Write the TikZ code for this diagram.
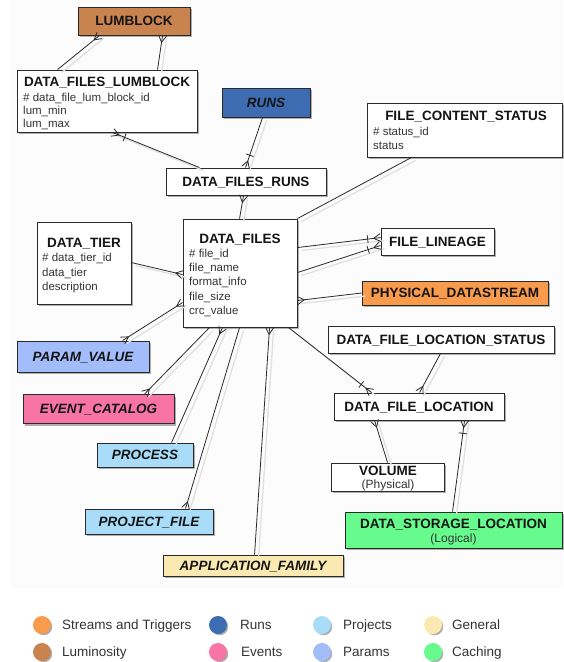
\documentclass[tikz,border=0pt]{standalone}
\usepackage{fontspec}
\setmainfont{Liberation Sans}
\usetikzlibrary{shadows,decorations.markings,calc}

\definecolor{lumc}{HTML}{C8834F}
\definecolor{runc}{HTML}{3E6CB3}
\definecolor{strc}{HTML}{F99B4C}
\definecolor{parc}{HTML}{A3BCFA}
\definecolor{evc}{HTML}{F874A5}
\definecolor{prjc}{HTML}{A8DCF8}
\definecolor{genc}{HTML}{FAEAB2}
\definecolor{cachc}{HTML}{66FB8C}
\definecolor{edge}{HTML}{2A2A2A}
\definecolor{ink}{HTML}{141414}
\definecolor{attr}{HTML}{333333}

\tikzset{
  ent/.style={draw=edge, line width=0.9pt, fill=white, rectangle, inner sep=0pt,
    drop shadow={shadow xshift=2pt, shadow yshift=-2pt, opacity=0.3, fill=black}},
  title/.style={text=ink, text depth=0pt, font=\fontsize{13.5}{15}\selectfont\bfseries},
  ititle/.style={text=ink, text depth=0pt, font=\fontsize{13.5}{15}\selectfont\bfseries\itshape},
  btext/.style={inner sep=0pt, anchor=base, text=ink, font=\fontsize{13.5}{15}\selectfont\bfseries},
  % multi-line attribute lists: anchored at the baseline of their last line
  attrs/.style={inner sep=0pt, anchor=base west, align=left, text=attr},
  sub/.style={inner sep=0pt, anchor=base, text=attr, font=\fontsize{12}{14}\selectfont},
  link/.style={draw=edge, line width=0.8pt,
    preaction={draw=black!12, line width=1.3pt, transform canvas={shift={(4pt,-3pt)}}}},
  crowend/.style={postaction={decorate, decoration={markings,
    mark=at position 1 with {\draw[edge, line width=0.8pt] (-7pt,0pt) -- (0pt,4pt) (-7pt,0pt) -- (0pt,-4pt);}}}},
  crowstart/.style={postaction={decorate, decoration={markings,
    mark=at position 0 with {\draw[edge, line width=0.8pt] (7pt,0pt) -- (0pt,4pt) (7pt,0pt) -- (0pt,-4pt);}}}},
  barend/.style={postaction={decorate, decoration={markings,
    mark=at position 1 with {\draw[edge, line width=0.8pt] (-13pt,-4pt) -- (-13pt,4pt);}}}},
  dot/.style={circle, minimum size=18pt, inner sep=0pt,
    circular drop shadow={shadow xshift=1.5pt, shadow yshift=-1.5pt, shadow scale=1, opacity=0.35, fill=black}},
  legtext/.style={inner sep=0pt, anchor=base west, text=attr, font=\fontsize{13.5}{15}\selectfont},
}

\begin{document}
\begin{tikzpicture}[x=1pt, y=-1pt]
\useasboundingbox (0,0) rectangle (563,662);
\fill[black!1.2] (10,0) rectangle (563,588);

% ---- entities ----
\node[ent, fill=lumc, minimum width=112, minimum height=28, title] (lum) at (134,21) {LUMBLOCK};
\node[ent, minimum width=180, minimum height=62] (dflum) at (107,101) {};
\node[btext] (dflum-t) at (107,86.8) {DATA\_FILES\_LUMBLOCK};
\node[attrs, font=\fontsize{11.5}{13}\selectfont] (dflum-a) at (23,127) {\# data\_file\_lum\_block\_id\\lum\_min\\lum\_max};

\node[ent, fill=runc, minimum width=88, minimum height=29, ititle] (runs) at (266,102.5) {RUNS};

\node[ent, minimum width=195, minimum height=54] (fcs) at (464.5,130) {};
\node[btext] (fcs-t) at (466,120.8) {FILE\_CONTENT\_STATUS};
\node[attrs, font=\fontsize{11.5}{14}\selectfont] (fcs-a) at (373,149) {\# status\_id\\status};

\node[ent, minimum width=160, minimum height=27, title] (dfruns) at (246,181.5) {DATA\_FILES\_RUNS};

\node[ent, minimum width=114, minimum height=108] (df) at (240,273) {};
\node[btext] (df-t) at (240,243.8) {DATA\_FILES};
\node[attrs, font=\fontsize{11.5}{14.2}\selectfont] (df-a) at (189,314.3) {\# file\_id\\file\_name\\format\_info\\file\_size\\crc\_value};

\node[ent, minimum width=94, minimum height=82] (dtier) at (84,263) {};
\node[btext] (dtier-t) at (84,247.8) {DATA\_TIER};
\node[attrs, font=\fontsize{11.5}{14.5}\selectfont] (dtier-a) at (42,290.5) {\# data\_tier\_id\\data\_tier\\description};

\node[ent, minimum width=113, minimum height=27, title] (flin) at (437.5,241.5) {FILE\_LINEAGE};
\node[ent, fill=strc, minimum width=186, minimum height=24, title] (phys) at (455,293) {PHYSICAL\_DATASTREAM};
\node[ent, fill=parc, minimum width=132, minimum height=31, ititle] (param) at (83,356.5) {PARAM\_VALUE};
\node[ent, minimum width=226, minimum height=27, title] (dfls) at (441,339.5) {DATA\_FILE\_LOCATION\_STATUS};
\node[ent, fill=evc, minimum width=151, minimum height=29, ititle] (event) at (98.5,409) {EVENT\_CATALOG};
\node[ent, minimum width=170, minimum height=27, title] (dfloc) at (419,406.5) {DATA\_FILE\_LOCATION};
\node[ent, fill=prjc, minimum width=96, minimum height=24, ititle] (process) at (145,455) {PROCESS};

\node[ent, minimum width=113, minimum height=28] (volume) at (387.5,477) {};
\node[btext] (volume-t) at (388,475.5) {VOLUME};
\node[sub] (volume-s) at (388,488.3) {(Physical)};

\node[ent, fill=prjc, minimum width=128, minimum height=25, ititle] (proj) at (149,521.5) {PROJECT\_FILE};

\node[ent, fill=cachc, minimum width=217, minimum height=36] (dsl) at (453.5,530) {};
\node[btext] (dsl-t) at (453.5,528.8) {DATA\_STORAGE\_LOCATION};
\node[sub] (dsl-s) at (453.5,542.3) {(Logical)};

\node[ent, fill=genc, minimum width=180, minimum height=21, ititle] (app) at (253,565.5) {APPLICATION\_FAMILY};

% ---- relationships ----
\draw[link, crowend] ($(dflum.north west)+(41,0)$) -- ($(lum.south west)+(22,0)$);
\draw[link, crowend] ($(dflum.north west)+(141,0)$) -- ($(lum.south west)+(85,0)$);
\draw[link, crowend, barend] ($(dfruns.north west)+(34,0)$) -- ($(dflum.south west)+(96,0)$);
\draw[link, crowend, barend] ($(runs.south west)+(41,0)$) -- ($(dfruns.north west)+(80,0)$);
\draw[link, crowstart] ($(dfruns.south west)+(78,0)$) -- ($(df.north west)+(57,0)$);
\draw[link] ($(fcs.south west)+(45,0)$) -- (df.north east);
\draw[link, crowend, barend] ($(df.north east)+(0,29)$) -- ($(flin.north west)+(0,10)$);
\draw[link, crowend, barend] ($(df.north east)+(0,54)$) -- ($(flin.north west)+(0,18)$);
\draw[link, crowend] (phys.west) -- ($(df.north east)+(0,82)$);
\draw[link, crowend] ($(dtier.north east)+(0,41)$) -- ($(df.north west)+(0,56)$);
\draw[link, crowstart, crowend] ($(param.north west)+(106,0)$) -- ($(df.north west)+(0,84)$);
\draw[link, crowend] ($(df.south west)+(27,0)$) -- ($(event.north west)+(122,0)$);
\draw[link, crowstart] ($(df.south west)+(40,0)$) -- ($(process.north west)+(75,0)$);
\draw[link, crowend] ($(df.south west)+(57,0)$) -- ($(proj.north west)+(101,0)$);
\draw[link, crowstart] ($(df.south west)+(87,0)$) -- ($(app.north west)+(92,0)$);
\draw[link, crowend, barend] ($(df.south east)+(-9,0)$) -- ($(dfloc.north west)+(38,0)$);
\draw[link, crowend] ($(dfls.south west)+(113,0)$) -- ($(dfloc.north west)+(86,0)$);
\draw[link, crowend] ($(volume.north west)+(57,0)$) -- ($(dfloc.south west)+(41,0)$);
\draw[link, crowend, barend] ($(dsl.north west)+(108,0)$) -- ($(dfloc.south west)+(131,0)$);

% ---- legend ----
\node[dot, fill=strc] (lg-str) at (42,625) {};
\node[legtext] (lg-str-t) at (62,629.6) {Streams and Triggers};
\node[dot, fill=lumc] (lg-lum) at (42,652) {};
\node[legtext] (lg-lum-t) at (62,656.6) {Luminosity};
\node[dot, fill=runc] (lg-run) at (218,625) {};
\node[legtext] (lg-run-t) at (240,629.6) {Runs};
\node[dot, fill=evc] (lg-ev) at (218,652) {};
\node[legtext] (lg-ev-t) at (241,656.6) {Events};
\node[dot, fill=prjc] (lg-prj) at (322,625) {};
\node[legtext] (lg-prj-t) at (343,629.6) {Projects};
\node[dot, fill=parc] (lg-par) at (322,652) {};
\node[legtext] (lg-par-t) at (343,656.6) {Params};
\node[dot, fill=genc] (lg-gen) at (433,625) {};
\node[legtext] (lg-gen-t) at (452,629.6) {General};
\node[dot, fill=cachc] (lg-cach) at (433,652) {};
\node[legtext] (lg-cach-t) at (452,656.6) {Caching};
\end{tikzpicture}
\end{document}
